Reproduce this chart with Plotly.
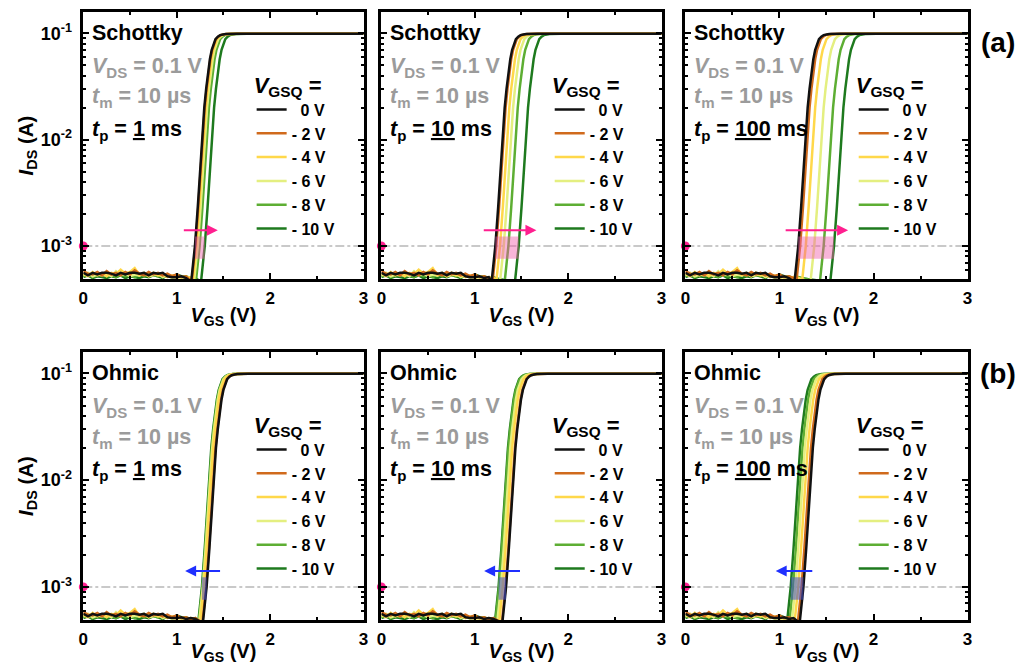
import math
import plotly.graph_objects as go
from plotly.subplots import make_subplots

# ---------------- data ----------------
vgsq_labels = ["\u00a0\u00a00 V", "- 2 V", "- 4 V", "- 6 V", "- 8 V", "- 10 V"]
line_colors = ["#111111", "#d06a1c", "#ffd84a", "#e4ef80", "#5dae33", "#1e7a1e"]

panel_contact = ["Schottky", "Schottky", "Schottky", "Ohmic", "Ohmic", "Ohmic"]
panel_tp = ["1", "10", "100", "1", "10", "100"]

# V_GS (V) at which I_DS = 1 mA, for V_GSQ = 0, -2, -4, -6, -8, -10 V
vth_a1 = [1.195, 1.20, 1.21, 1.225, 1.245, 1.30]
vth_a2 = [1.22, 1.23, 1.27, 1.31, 1.36, 1.47]
vth_a3 = [1.20, 1.22, 1.28, 1.37, 1.47, 1.58]
vth_b1 = [1.32, 1.315, 1.29, 1.28, 1.275, 1.27]
vth_b2 = [1.335, 1.33, 1.30, 1.28, 1.26, 1.255]
vth_b3 = [1.255, 1.235, 1.20, 1.17, 1.145, 1.12]
vth_panels = [vth_a1, vth_a2, vth_a3, vth_b1, vth_b2, vth_b3]

# transfer-curve shape around the 1 mA point (V_GS offset in V, I_DS in A)
rise_dv = [-0.04, -0.02, 0.0, 0.03, 0.05, 0.07, 0.10, 0.12, 0.14, 0.16, 0.18, 0.20, 0.22, 0.245, 0.27, 0.30, 0.33, 0.45]
rise_i = [4.6e-4, 6.8e-4, 1.0e-3, 2.3e-3, 4.6e-3, 9.0e-3, 2.0e-2, 3.0e-2, 4.3e-2, 5.7e-2, 7.0e-2, 8.0e-2, 8.8e-2, 9.3e-2, 9.6e-2, 9.75e-2, 9.85e-2, 9.9e-2]
i_sat = 9.9e-2
v_end = 3.0

# off-state noise floor (I_DS in units of 1e-4 A) on a 0.05 V grid
noise_v = [0.00, 0.05, 0.10, 0.15, 0.20, 0.25, 0.30, 0.35, 0.40, 0.45, 0.50, 0.55, 0.60,
           0.65, 0.70, 0.75, 0.80, 0.85, 0.90, 0.95, 1.00, 1.05, 1.10, 1.15, 1.20]
noise_i = [
    [5.6, 5.3, 5.6, 5.4, 5.6, 5.6, 5.5, 5.3, 5.6, 5.4, 5.6, 5.6, 5.5, 5.6, 5.3, 5.6, 5.5, 5.6, 5.2, 5.1, 5.1, 5.2, 5.0, 5.1, 5.0],
    [5.8, 5.5, 5.4, 5.7, 5.3, 5.8, 5.4, 5.6, 5.3, 5.7, 5.4, 5.9, 5.5, 5.3, 5.7, 5.4, 5.6, 5.3, 5.5, 5.2, 5.4, 5.1, 5.2, 5.0, 5.1],
    [5.5, 5.2, 5.7, 5.3, 5.5, 5.2, 5.6, 5.4, 6.0, 5.5, 5.7, 6.2, 5.3, 5.5, 5.2, 5.6, 5.3, 5.4, 5.1, 5.3, 5.0, 5.2, 5.0, 5.1, 5.0],
    [5.3, 5.6, 5.2, 5.4, 5.3, 5.5, 5.2, 5.8, 5.3, 5.5, 5.2, 5.4, 5.3, 5.6, 5.2, 5.3, 5.5, 5.1, 5.3, 5.0, 5.2, 5.0, 5.1, 5.0, 5.0],
    [5.2, 5.4, 5.1, 5.3, 5.5, 5.2, 5.3, 5.1, 5.4, 5.2, 5.3, 5.1, 5.4, 5.2, 5.5, 5.3, 5.2, 5.4, 5.3, 5.2, 5.3, 5.1, 5.2, 5.0, 5.1],
    [5.1, 5.3, 5.0, 5.2, 5.1, 5.0, 5.2, 5.1, 5.3, 5.0, 5.2, 5.1, 5.0, 5.2, 5.1, 5.3, 5.2, 5.0, 5.3, 5.1, 5.4, 5.2, 5.1, 5.0, 5.0],
]
noise_scale = 1e-4

i_ref = 1e-3                      # 1 mA reference level
box_i = [7.6e-4, 1.23e-3]         # shaded V_th-shift box
arrow_i = 1.41e-3
arrow_tail = [1.06, 1.08, 1.05, 1.48, 1.50, 1.365]
arrow_head = [1.44, 1.66, 1.73, 1.09, 1.10, 0.96]

x_ticks = [0, 1, 2, 3]
x_minor = [0.5, 1.5, 2.5]
y_ticks = [1e-3, 1e-2, 1e-1]
y_ticktext = ["10<sup>-3</sup>", "10<sup>-2</sup>", "10<sup>-1</sup>"]
y_minor = [k * 10.0 ** e for e in (-4, -3, -2) for k in range(2, 10)]

# ---------------- figure ----------------
FONT = "Liberation Sans, Arial, sans-serif"
W, H = 1024, 657          # page adds an 8 px body margin
col_px = [(71, 354), (372, 655), (679, 964)]
row_px = [(4, 271), (344, 612)]
col_dom = [(a / W, b / W) for a, b in col_px]
row_dom = [(1 - b / H, 1 - a / H) for a, b in row_px]

fig = make_subplots(rows=2, cols=3)

shift_colors = ["rgba(240,90,170,0.45)"] * 3 + ["rgba(70,80,200,0.55)"] * 3
arrow_colors = ["#ff1f8f"] * 3 + ["#1f2fff"] * 3

for p in range(6):
    r, c = p // 3 + 1, p % 3 + 1
    vth = vth_panels[p]
    leg = "legend" if p == 0 else f"legend{p + 1}"
    fig.add_trace(go.Scatter(x=[0, v_end], y=[i_ref, i_ref], mode="lines",
                             line=dict(color="#b8b8b8", width=1.5, dash="dashdot"),
                             showlegend=False, hoverinfo="skip"), row=r, col=c)
    for k in reversed(range(6)):
        v0 = vth[k]
        keep = [j for j, v in enumerate(noise_v) if v <= v0 - 0.06]
        xs = [noise_v[j] for j in keep] + [v0 + d for d in rise_dv] + [v_end]
        ys = [noise_i[k][j] * noise_scale for j in keep] + list(rise_i) + [i_sat]
        fig.add_trace(go.Scatter(x=xs, y=ys, mode="lines", name=vgsq_labels[k],
                                 line=dict(color=line_colors[k], width=2.5),
                                 legend=leg, showlegend=True), row=r, col=c)
    bx0, bx1 = min(vth), max(vth)
    fig.add_trace(go.Scatter(x=[bx0, bx1, bx1, bx0, bx0],
                             y=[box_i[0], box_i[0], box_i[1], box_i[1], box_i[0]],
                             mode="lines", fill="toself", fillcolor=shift_colors[p],
                             line=dict(width=0), showlegend=False, hoverinfo="skip"),
                  row=r, col=c)
    fig.add_trace(go.Scatter(x=[0], y=[i_ref], mode="markers",
                             marker=dict(color="#ff1f8f", size=9),
                             cliponaxis=False, showlegend=False, hoverinfo="skip"),
                  row=r, col=c)

for p in range(6):
    r, c = p // 3 + 1, p % 3 + 1
    fig.update_xaxes(row=r, col=c, domain=list(col_dom[c - 1]), range=[0, 3], tickvals=x_ticks,
                     ticks="inside", ticklen=6, tickwidth=2, tickcolor="black",
                     minor=dict(tickvals=x_minor, ticks="inside", ticklen=3,
                                tickwidth=1.5, tickcolor="black"),
                     showline=True, linewidth=2.5, linecolor="black", mirror="allticks",
                     showgrid=False, zeroline=False, ticklabelstandoff=2,
                     tickfont=dict(family=FONT, size=17, color="black", weight="bold"),
                     title=dict(text="<i>V</i><sub>GS</sub> (V)", standoff=1,
                                font=dict(family=FONT, size=20, color="black", weight="bold")))
    fig.update_yaxes(row=r, col=c, domain=list(row_dom[r - 1]), type="log", range=[-3.31, -0.80],
                     tickvals=y_ticks, ticktext=y_ticktext, showticklabels=(c == 1),
                     ticks="inside", ticklen=6, tickwidth=2, tickcolor="black",
                     minor=dict(tickvals=y_minor, ticks="inside", ticklen=3,
                                tickwidth=1.5, tickcolor="black"),
                     showline=True, linewidth=2.5, linecolor="black", mirror="allticks",
                     showgrid=False, zeroline=False, ticklabelstandoff=5,
                     tickfont=dict(family=FONT, size=18, color="black", weight="bold"),
                     title=dict(text="<i>I</i><sub>DS</sub> (A)" if c == 1 else "", standoff=2,
                                font=dict(family=FONT, size=20.5, color="black", weight="bold")))

annotations = []
legends = {}
for p in range(6):
    r, c = p // 3 + 1, p % 3 + 1
    ax_id = "" if p == 0 else str(p + 1)
    xref_d, yref_d = f"x{ax_id} domain", f"y{ax_id} domain"
    texts = [
        (panel_contact[p], "black", 0.921),
        ("<i>V</i><sub>DS</sub> = 0.1 V", "#9b9b9b", 0.794),
        ("<i>t</i><sub>m</sub> = 10 µs", "#9b9b9b", 0.678),
        (f"<i>t</i><sub>p</sub> = <u>{panel_tp[p]}</u> ms", "black", 0.558),
    ]
    for t, col, yy in texts:
        annotations.append(dict(text=t, xref=xref_d, yref=yref_d, x=0.025, y=yy,
                                xanchor="left", yanchor="middle", showarrow=False,
                                font=dict(family=FONT, size=21.5, color=col, weight="bold")))
    annotations.append(dict(xref=f"x{ax_id}", yref=f"y{ax_id}", axref=f"x{ax_id}", ayref=f"y{ax_id}",
                            x=arrow_head[p], y=math.log10(arrow_i),
                            ax=arrow_tail[p], ay=math.log10(arrow_i), text="",
                            showarrow=True, arrowhead=2, arrowsize=1.1, arrowwidth=2,
                            arrowcolor=arrow_colors[p]))
    x0 = col_px[c - 1][0]
    y0 = row_px[r - 1][0]
    key = "legend" if p == 0 else f"legend{p + 1}"
    legends[key] = dict(x=(x0 + 170) / W, y=1 - (y0 + 52) / H, xanchor="left", yanchor="top",
                        bgcolor="rgba(0,0,0,0)", traceorder="reversed",
                        title=dict(text="<i>V</i><sub>GSQ</sub> =",
                                   font=dict(family=FONT, size=22, color="black", weight="bold")),
                        font=dict(family=FONT, size=16, color="black", weight="bold"))

annotations.append(dict(text="(a)", xref="paper", yref="paper", x=995 / W, y=1 - 34 / H,
                        xanchor="center", yanchor="middle", showarrow=False,
                        font=dict(family=FONT, size=28, color="black", weight="bold")))
annotations.append(dict(text="(b)", xref="paper", yref="paper", x=995 / W, y=1 - 365 / H,
                        xanchor="center", yanchor="middle", showarrow=False,
                        font=dict(family=FONT, size=28, color="black", weight="bold")))

fig.update_layout(width=W, height=H, margin=dict(l=0, r=0, t=0, b=0),
                  paper_bgcolor="white", plot_bgcolor="white",
                  font=dict(family=FONT, color="black"),
                  annotations=annotations, **legends)

fig.write_html("out.html")
